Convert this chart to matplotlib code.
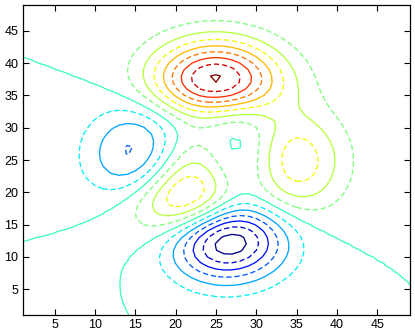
import numpy as np
import matplotlib
matplotlib.use("Agg")
import matplotlib.pyplot as plt

# Data: MATLAB "peaks" surface sampled on a 49 x 49 grid
grid_n = 49
grid_span = [-3.0, 3.0]
levels = [-6, -5, -4, -3, -2, -1, 0, 1, 2, 3, 4, 5, 6, 7, 8]
xticks = [5, 10, 15, 20, 25, 30, 35, 40, 45]
yticks = [5, 10, 15, 20, 25, 30, 35, 40, 45]

u = np.linspace(grid_span[0], grid_span[1], grid_n)
X, Y = np.meshgrid(u, u)
Z = (3 * (1 - X) ** 2 * np.exp(-X ** 2 - (Y + 1) ** 2)
     - 10 * (X / 5 - X ** 3 - Y ** 5) * np.exp(-X ** 2 - Y ** 2)
     - 1 / 3 * np.exp(-(X + 1) ** 2 - Y ** 2))
idx = np.arange(1, grid_n + 1)

plt.rcParams['font.family'] = ['Liberation Sans', 'DejaVu Sans']
fig = plt.figure(figsize=(4.15, 3.34), dpi=100)
ax = fig.add_axes([22.5 / 415, 19 / 334, 387 / 415, 310 / 334])

cmap = plt.get_cmap('jet')
norm = matplotlib.colors.Normalize(vmin=min(levels), vmax=max(levels))
colors = [cmap(norm(l)) for l in levels]
styles = ['solid' if l % 2 == 0 else (0, (4, 2.2)) for l in levels]
ax.contour(idx, idx, Z, levels=levels, colors=colors, linestyles=styles,
           linewidths=0.95)

ax.set_xlim(1, 49)
ax.set_ylim(1, 49)
ax.set_xticks(xticks)
ax.set_yticks(yticks)
ax.tick_params(direction='in', length=4, width=0.8, top=True, right=True,
               labelsize=9, pad=3)
for s in ax.spines.values():
    s.set_linewidth(0.9)

fig.savefig('out.png', dpi=100)
